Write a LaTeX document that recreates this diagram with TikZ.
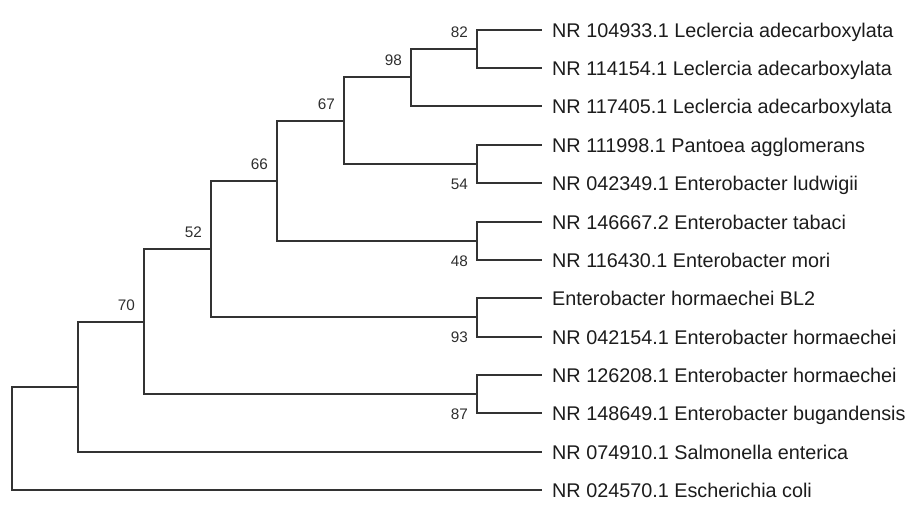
\documentclass[tikz,border=0pt]{standalone}
\usepackage{fontspec}
\setmainfont{Liberation Sans}
\definecolor{branch}{HTML}{333333}
\definecolor{txt}{HTML}{1C1C1C}
\definecolor{bs}{HTML}{2E2E2E}
\begin{document}
\begin{tikzpicture}[x=1pt,y=-1pt,
  edge/.style={draw=branch,line width=2pt},
  leaf/.style={anchor=west,inner sep=0pt,text=txt,font=\fontsize{19.8}{22}\selectfont,text height=14.2pt,text depth=0pt},
  boot/.style={anchor=east,inner sep=0pt,text=bs,font=\fontsize{15.3}{17}\selectfont,text height=10.9pt,text depth=0pt}]
\useasboundingbox (0,0) rectangle (922,507);
% leaf ends
\coordinate (l1) at (542,30);
\coordinate (l2) at (542,68);
\coordinate (l3) at (542,106);
\coordinate (l4) at (542,145);
\coordinate (l5) at (542,183);
\coordinate (l6) at (542,222);
\coordinate (l7) at (542,260);
\coordinate (l8) at (542,298);
\coordinate (l9) at (542,337);
\coordinate (l10) at (542,375);
\coordinate (l11) at (542,413);
\coordinate (l12) at (542,452);
\coordinate (l13) at (542,490);
% internal nodes
\coordinate (n82) at (477,49);
\coordinate (n98) at (411,77);
\coordinate (n54) at (477,164);
\coordinate (n67) at (344,121);
\coordinate (n48) at (477,241);
\coordinate (n66) at (277,181);
\coordinate (n93) at (477,317);
\coordinate (n52) at (211,249);
\coordinate (n87) at (477,394);
\coordinate (n70) at (144,322);
\coordinate (nS) at (78,387);
\coordinate (root) at (12,438);
% branches
\draw[edge] (n82) |- (l1); \draw[edge] (n82) |- (l2);
\draw[edge] (n98) |- (n82); \draw[edge] (n98) |- (l3);
\draw[edge] (n54) |- (l4); \draw[edge] (n54) |- (l5);
\draw[edge] (n67) |- (n98); \draw[edge] (n67) |- (n54);
\draw[edge] (n48) |- (l6); \draw[edge] (n48) |- (l7);
\draw[edge] (n66) |- (n67); \draw[edge] (n66) |- (n48);
\draw[edge] (n93) |- (l8); \draw[edge] (n93) |- (l9);
\draw[edge] (n52) |- (n66); \draw[edge] (n52) |- (n93);
\draw[edge] (n87) |- (l10); \draw[edge] (n87) |- (l11);
\draw[edge] (n70) |- (n52); \draw[edge] (n70) |- (n87);
\draw[edge] (nS) |- (n70); \draw[edge] (nS) |- (l12);
\draw[edge] (root) |- (nS); \draw[edge] (root) |- (l13);
% leaf labels
\node[leaf] (t1) at ([xshift=10pt]l1) {NR 104933.1 Leclercia adecarboxylata};
\node[leaf] (t2) at ([xshift=10pt]l2) {NR 114154.1 Leclercia adecarboxylata};
\node[leaf] (t3) at ([xshift=10pt]l3) {NR 117405.1 Leclercia adecarboxylata};
\node[leaf] (t4) at ([xshift=10pt]l4) {NR 111998.1 Pantoea agglomerans};
\node[leaf] (t5) at ([xshift=10pt]l5) {NR 042349.1 Enterobacter ludwigii};
\node[leaf] (t6) at ([xshift=10pt]l6) {NR 146667.2 Enterobacter tabaci};
\node[leaf] (t7) at ([xshift=10pt]l7) {NR 116430.1 Enterobacter mori};
\node[leaf] (t8) at ([xshift=10pt]l8) {Enterobacter hormaechei BL2};
\node[leaf] (t9) at ([xshift=10pt]l9) {NR 042154.1 Enterobacter hormaechei};
\node[leaf] (t10) at ([xshift=10pt]l10) {NR 126208.1 Enterobacter hormaechei};
\node[leaf] (t11) at ([xshift=10pt]l11) {NR 148649.1 Enterobacter bugandensis};
\node[leaf] (t12) at ([xshift=10pt]l12) {NR 074910.1 Salmonella enterica};
\node[leaf] (t13) at ([xshift=10pt]l13) {NR 024570.1 Escherichia coli};
% bootstrap values
\node[boot] (b82) at ([xshift=-9pt,yshift=17pt]n82) {82};
\node[boot] (b98) at ([xshift=-9pt,yshift=17pt]n98) {98};
\node[boot] (b67) at ([xshift=-9pt,yshift=17pt]n67) {67};
\node[boot] (b66) at ([xshift=-9pt,yshift=17pt]n66) {66};
\node[boot] (b52) at ([xshift=-9pt,yshift=17pt]n52) {52};
\node[boot] (b70) at ([xshift=-9pt,yshift=17pt]n70) {70};
\node[boot] (b54) at ([xshift=-9pt,yshift=-20pt]n54) {54};
\node[boot] (b48) at ([xshift=-9pt,yshift=-20pt]n48) {48};
\node[boot] (b93) at ([xshift=-9pt,yshift=-20pt]n93) {93};
\node[boot] (b87) at ([xshift=-9pt,yshift=-20pt]n87) {87};
\end{tikzpicture}
\end{document}
